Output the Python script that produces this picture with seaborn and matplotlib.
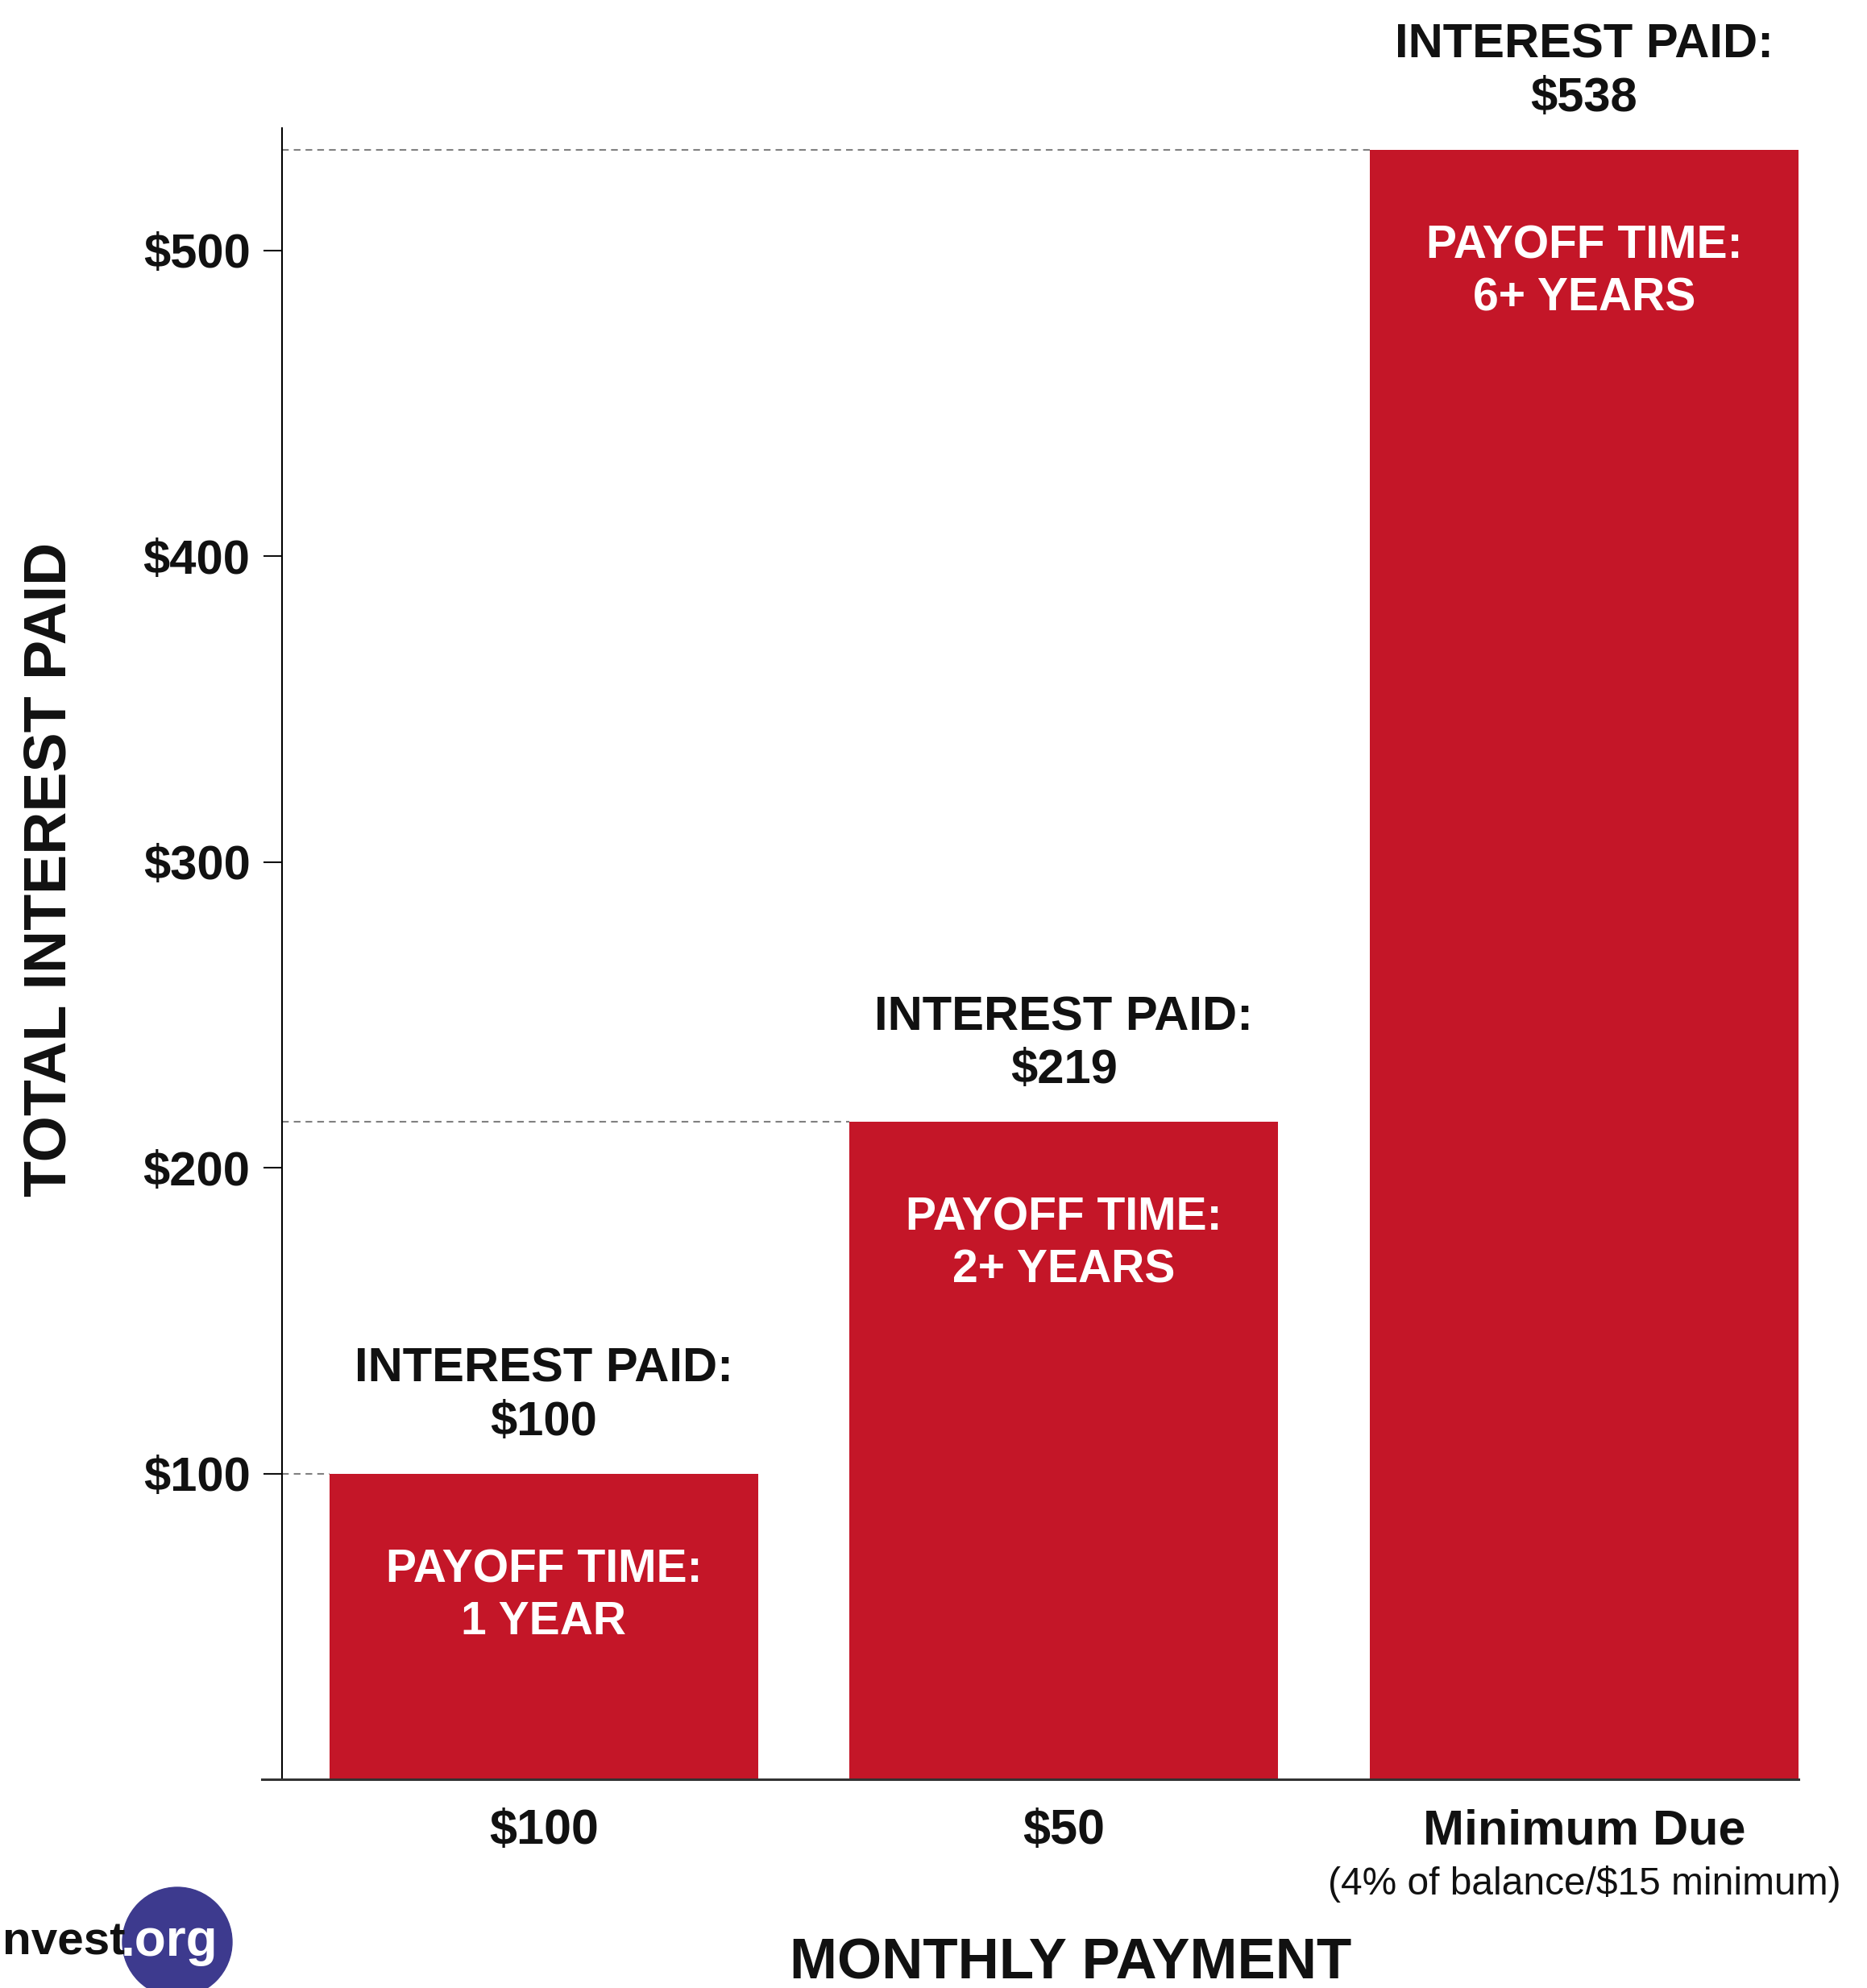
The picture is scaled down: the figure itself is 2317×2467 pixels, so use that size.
import matplotlib
matplotlib.use("Agg")
import matplotlib.pyplot as plt
import matplotlib.transforms as mtransforms
from matplotlib.patches import Ellipse
import seaborn as sns

payments = ["$100", "$50", "Minimum Due"]
bar_heights = [100, 215, 533]            # where the bars sit against the axis
interest_paid = ["$100", "$219", "$538"]  # what the labels print
payoff_time = ["1 YEAR", "2+ YEARS", "6+ YEARS"]
y_ticks = [100, 200, 300, 400, 500]
y_ticklabels = ["$100", "$200", "$300", "$400", "$500"]
min_due_note = "(4% of balance/$15 minimum)"

RED = "#c41628"
INK = "#111111"
BAR_W = 0.824
DPI = 100
W, H = 2317, 2467
SPINE_X = -0.503   # y axis sits a little right of the bottom line start

sns.set_style("white")
plt.rcParams["font.family"] = ["Liberation Sans", "DejaVu Sans"]
plt.rcParams["font.weight"] = "bold"

fig = plt.figure(figsize=(W / DPI, H / DPI), dpi=DPI)
ax = fig.add_axes([325 / W, 1 - 2208 / H, (2232 - 325) / W, (2208 - 159) / H])

sns.barplot(x=payments, y=bar_heights, color=RED, saturation=1,
            width=BAR_W, linewidth=0, ax=ax)

ax.set_xlim(-0.542, 2 + BAR_W / 2)
ax.set_ylim(0, 540)

# dashed guides from the axis to each bar top
ax.hlines(bar_heights, SPINE_X, [i - BAR_W / 2 for i in range(len(payments))],
          colors="#808080", linestyles=(0, (4, 3)), linewidth=1.5, zorder=0)

for s in ["top", "right"]:
    ax.spines[s].set_visible(False)
ax.spines["left"].set_position(("data", SPINE_X))
ax.spines["left"].set_linewidth(1.5)
ax.spines["left"].set_color("black")
ax.spines["bottom"].set_linewidth(2.2)
ax.spines["bottom"].set_color("#333333")

ax.set_yticks(y_ticks, y_ticklabels)
ax.tick_params(axis="y", left=True, length=16.5, width=1.5, pad=12,
               labelsize=43, colors=INK, direction="out")
ax.tick_params(axis="x", bottom=False, length=0, pad=26, labelsize=44, colors=INK)

# note under "Minimum Due"
trans = mtransforms.blended_transform_factory(ax.transData, fig.transFigure)
ax.text(2, 1 - 2338 / H, min_due_note, transform=trans, ha="center", va="center",
        fontsize=34.5, fontweight="normal", color=INK)

for i, (h, paid, t) in enumerate(zip(bar_heights, interest_paid, payoff_time)):
    ax.annotate("INTEREST PAID:", (i, h), xytext=(0, 82), textcoords="offset points",
                ha="center", va="baseline", fontsize=43, color=INK)
    ax.annotate(paid, (i, h), xytext=(0, 34.5), textcoords="offset points",
                ha="center", va="baseline", fontsize=43, color=INK)
    ax.annotate("PAYOFF TIME:", (i, h), xytext=(0, -97), textcoords="offset points",
                ha="center", va="baseline", fontsize=41, color="white")
    ax.annotate(t, (i, h), xytext=(0, -143.6), textcoords="offset points",
                ha="center", va="baseline", fontsize=41, color="white")

ax.set_ylabel("TOTAL INTEREST PAID", fontsize=53, fontweight="bold", color=INK, va="center")
ax.yaxis.set_label_coords(-0.138, 0.551)
ax.set_xlabel("MONTHLY PAYMENT", fontsize=51, fontweight="bold", color=INK, va="center")
ax.xaxis.set_label_coords(0.5265, -0.1118)

# logo in the corner
fig.add_artist(Ellipse((220 / W, 1 - 2410 / H), 136 / W, 136 / H,
                       transform=fig.transFigure, color="#3d3a8e"))
fig.text(3 / W, 1 - 2410 / H, "nvest", ha="left", va="center", fontsize=42, color=INK)
fig.text(150 / W, 1 - 2410 / H, ".org", ha="left", va="center", fontsize=46, color="white")

fig.savefig("out.png", dpi=DPI)
